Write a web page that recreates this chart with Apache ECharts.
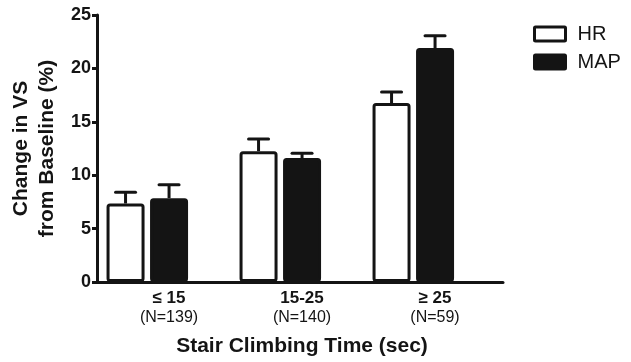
<!DOCTYPE html>
<html><head><meta charset="utf-8">
<script src="https://cdn.jsdelivr.net/npm/echarts@6/dist/echarts.min.js"></script>
<style>html,body{margin:0;padding:0;background:#fff}#c{width:631px;height:362px}</style>
</head><body><div id="c"></div>
<script>
const categories = ['≤ 15', '15-25', '≥ 25'];
const sampleSizes = ['(N=139)', '(N=140)', '(N=59)'];
const hrMean = [7.35, 12.25, 16.75];
const hrUpper = [8.4, 13.4, 17.8];
const mapMean = [7.85, 11.6, 21.9];
const mapUpper = [9.1, 12.05, 23.05];
const yTicks = [0, 5, 10, 15, 20, 25];

const INK = '#141414';
const FONT = '"Liberation Sans", Arial, sans-serif';
const BAR_W = 38, BAR_GAP = 0.145;
const half = (BAR_W * (1 + BAR_GAP)) / 2;

function errSeries(name, mean, upper, dir) {
  return {
    type: 'custom', name: name + ' err', xAxisIndex: 0, yAxisIndex: 0, z: 1,
    silent: true,
    encode: { x: 0, y: [1, 2] },
    data: mean.map((m, i) => [i, m, upper[i]]),
    renderItem: function (params, api) {
      const b = api.coord([api.value(0), api.value(1)]);
      const t = api.coord([api.value(0), api.value(2)]);
      const x = b[0] + dir * half;
      const st = { stroke: INK, lineWidth: 3 };
      return { type: 'group', children: [
        { type: 'line', shape: { x1: x, y1: b[1], x2: x, y2: t[1] }, style: st },
        { type: 'line', shape: { x1: x - 10, y1: t[1], x2: x + 10, y2: t[1] }, style: Object.assign({ lineCap: 'round' }, st) }
      ]};
    }
  };
}

const chart = echarts.init(document.getElementById('c'), null, { renderer: 'canvas' });
chart.setOption({
  animation: false,
  backgroundColor: '#fff',
  textStyle: { fontFamily: FONT },
  grid: [
    { left: 80.8, width: 399, top: 15, bottom: 80 },
    { left: 102.5, width: 399, top: 15, bottom: 80 },
    { left: 97, right: 128, top: 15, bottom: 80 }
  ],
  legend: {
    orient: 'vertical', left: 528, top: 19, itemWidth: 31, itemHeight: 14, itemGap: 8,
    icon: 'path://M1,0 L30,0 Q31,0 31,1 L31,13 Q31,14 30,14 L1,14 Q0,14 0,13 L0,1 Q0,0 1,0 Z',
    textStyle: { fontFamily: FONT, fontSize: 20, color: INK, padding: [0, 0, 0, 7] },
    data: [
      { name: 'HR', itemStyle: { color: '#fff', borderColor: INK, borderWidth: 3 } },
      { name: 'MAP', itemStyle: { color: INK, borderColor: INK, borderWidth: 3 } }
    ]
  },
  xAxis: [
    { type: 'category', gridIndex: 0, data: categories, axisLine: { show: false }, axisTick: { show: false }, axisLabel: { show: false } },
    { type: 'category', gridIndex: 1, data: categories.map((c, i) => c + '\n' + sampleSizes[i]),
      axisLine: { show: false },
      axisTick: { show: true, alignWithLabel: true, length: 7, lineStyle: { color: INK, width: 3 } },
      axisLabel: { margin: 13, color: INK, fontFamily: FONT,
        formatter: function (v) { const p = v.split('\n'); return '{a|' + p[0] + '}\n{b|' + p[1] + '}'; },
        rich: { a: { fontSize: 17, fontWeight: 'bold', color: INK, lineHeight: 19, fontFamily: FONT },
                b: { fontSize: 16, color: INK, lineHeight: 19, fontFamily: FONT } } },
      name: 'Stair Climbing Time (sec)', nameLocation: 'middle', nameGap: 60,
      nameTextStyle: { fontSize: 21, fontWeight: 'bold', color: INK, fontFamily: FONT } },
    { type: 'value', gridIndex: 2, min: 0, max: 1, axisLine: { show: true, lineStyle: { color: INK, width: 3 } },
      axisTick: { show: false }, axisLabel: { show: false }, splitLine: { show: false } }
  ],
  yAxis: [
    { type: 'value', gridIndex: 0, min: yTicks[0], max: yTicks[yTicks.length - 1], interval: 5, offset: -16.2,
      axisLine: { show: true, lineStyle: { color: INK, width: 3 } },
      axisTick: { show: true, length: 5, lineStyle: { color: INK, width: 3 } },
      splitLine: { show: false },
      axisLabel: { margin: 6, fontSize: 18, fontWeight: 'bold', color: INK, fontFamily: FONT },
      name: 'Change in VS\nfrom Baseline (%)', nameLocation: 'middle', nameGap: 28,
      nameTextStyle: { fontSize: 21, fontWeight: 'bold', color: INK, lineHeight: 26, fontFamily: FONT } },
    { type: 'value', gridIndex: 1, min: 0, max: 25, show: false },
    { type: 'value', gridIndex: 2, min: 0, max: 25, show: false }
  ],
  series: [
    { name: 'HR', type: 'bar', xAxisIndex: 0, yAxisIndex: 0, data: hrMean, barWidth: BAR_W, barGap: (BAR_GAP * 100) + '%', z: 2,
      itemStyle: { color: '#fff', borderColor: INK, borderWidth: 3, borderRadius: 2 } },
    { name: 'MAP', type: 'bar', xAxisIndex: 0, yAxisIndex: 0, data: mapMean, barWidth: BAR_W, z: 2,
      itemStyle: { color: INK, borderColor: INK, borderWidth: 3, borderRadius: 2 } },
    errSeries('HR', hrMean, hrUpper, -1),
    errSeries('MAP', mapMean, mapUpper, 1)
  ]
});
</script></body></html>
